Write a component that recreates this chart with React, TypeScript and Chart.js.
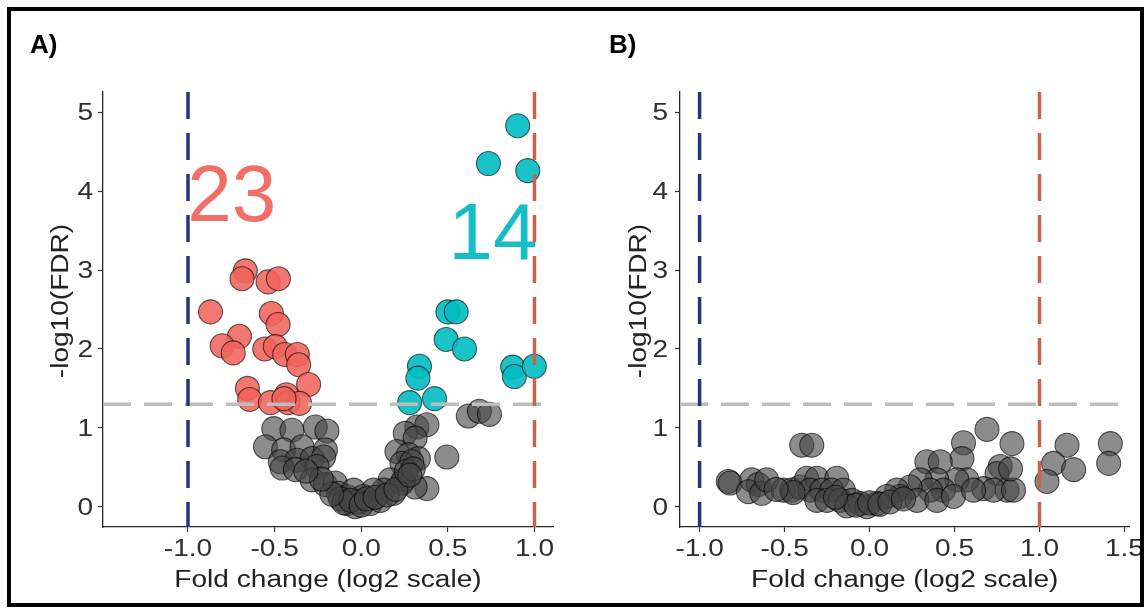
import React, { useEffect, useRef } from "react";
import { Chart, registerables } from "chart.js";
Chart.register(...registerables);

// ---------------- data ----------------
// Panel A: significant down (red, count "23")
const A_DOWN_X = [-0.669, -0.688, -0.538, -0.478, -0.87, -0.519, -0.48, -0.703, -0.803, -0.739, -0.557, -0.496, -0.442, -0.369, -0.361, -0.304, -0.657, -0.644, -0.524, -0.432, -0.422, -0.356, -0.446];
const A_DOWN_Y = [2.99, 2.89, 2.85, 2.89, 2.47, 2.45, 2.31, 2.16, 2.04, 1.95, 2.0, 2.03, 1.93, 1.93, 1.8, 1.55, 1.5, 1.36, 1.32, 1.42, 1.32, 1.31, 1.37];
// Panel A: significant up (teal, count "14")
const A_UP_X = [0.903, 0.734, 0.961, 0.5, 0.548, 0.49, 0.596, 0.336, 0.327, 0.279, 0.423, 0.874, 0.884, 0.999];
const A_UP_Y = [4.83, 4.35, 4.26, 2.47, 2.47, 2.12, 2.0, 1.78, 1.63, 1.32, 1.37, 1.77, 1.65, 1.78];
// Panel A: not significant (grey)
const A_NS_X = [-0.505, -0.4, -0.265, -0.198, -0.553, -0.448, -0.342, -0.207, -0.467, -0.371, -0.284, -0.217, -0.457, -0.38, -0.255, -0.284, -0.207, -0.15, -0.131, -0.082, -0.044, -0.082, -0.035,
  0.321, 0.379, 0.254, 0.311, 0.206, 0.273, 0.33, 0.235, 0.292, 0.494, 0.379, 0.311, 0.244, 0.167, 0.129, 0.071, 0.013, -0.025, 0.052, 0.11, 0.186, 0.235,
  0.618, 0.682, 0.74,
  -0.12, -0.1, -0.06, 0.0, 0.03, 0.08, 0.15, 0.2, 0.26, 0.3, 0.28, -0.17, -0.23, -0.32];
const A_NS_Y = [0.99, 0.97, 1.01, 0.96, 0.76, 0.72, 0.76, 0.72, 0.57, 0.59, 0.61, 0.63, 0.49, 0.47, 0.51, 0.34, 0.28, 0.3, 0.17, 0.13, 0.21, 0.04, 0.0,
  1.01, 1.04, 0.93, 0.87, 0.7, 0.66, 0.61, 0.55, 0.57, 0.63, 0.23, 0.25, 0.34, 0.34, 0.21, 0.21, 0.13, 0.06, 0.04, 0.08, 0.17, 0.3,
  1.15, 1.21, 1.17,
  0.1, 0.05, 0.08, 0.02, 0.1, 0.12, 0.15, 0.22, 0.45, 0.48, 0.4, 0.16, 0.35, 0.45];
// Panel B: all not significant (grey)
const B_NS_X = [-0.831, -0.82, -0.693, -0.654, -0.713, -0.634, -0.605, -0.399, -0.34, -0.507, -0.458, -0.409, -0.369, -0.31, -0.193, -0.35, -0.281, -0.222, -0.154, -0.31, -0.251, -0.173, -0.104, -0.055, -0.134, -0.016,
  0.691, 0.553, 0.838, 0.544, 0.337, 0.416, 0.769, 0.75, 0.809, 0.671, 0.73, 0.573, 0.514, 0.396, 0.298, 0.435, 0.357, 0.239, 0.161, 0.18, 0.102, 0.043, 0.279, 0.396, 0.494, 0.612, 0.847,
  1.162, 1.417, 1.407, 1.083, 1.201, 1.044, 0.83,
  -0.08, 0.0, 0.06, 0.12, 0.2, -0.2, -0.45, -0.55];
const B_NS_Y = [0.32, 0.3, 0.34, 0.28, 0.19, 0.17, 0.34, 0.78, 0.78, 0.21, 0.21, 0.25, 0.36, 0.36, 0.36, 0.21, 0.21, 0.21, 0.21, 0.08, 0.08, 0.08, 0.08, 0.04, 0.01, 0.0,
  0.98, 0.81, 0.8, 0.61, 0.57, 0.57, 0.51, 0.42, 0.21, 0.23, 0.21, 0.34, 0.34, 0.34, 0.34, 0.21, 0.21, 0.25, 0.21, 0.13, 0.13, 0.04, 0.08, 0.08, 0.13, 0.21, 0.21,
  0.78, 0.8, 0.55, 0.55, 0.47, 0.32, 0.48,
  0.02, 0.05, 0.03, 0.06, 0.1, 0.12, 0.18, 0.22];

const FC_CUTOFFS = [-1, 1];
const FDR_CUTOFF = 1.3;

const Y_TICKS = [0, 1, 2, 3, 4, 5];
const Y_TICK_LABELS = ["0", "1", "2", "3", "4", "5"];
const A_X_TICKS = [-1, -0.5, 0, 0.5, 1];
const A_X_TICK_LABELS = ["-1.0", "-0.5", "0.0", "0.5", "1.0"];
const B_X_TICKS = [-1, -0.5, 0, 0.5, 1, 1.5];
const B_X_TICK_LABELS = ["-1.0", "-0.5", "0.0", "0.5", "1.0", "1.5"];

const A_COUNT_LABELS = ["23", "14"];
const A_COUNT_X = [-0.748, 0.76];
const A_COUNT_Y = [3.98, 3.5];

const X_TITLE = "Fold change (log2 scale)";
const Y_TITLE = "-log10(FDR)";
const PANEL_LABELS = ["A)", "B)"];

// ---------------- styling ----------------
const FONT = '"Liberation Sans", Arial, Helvetica, sans-serif';
const STRETCH = 1.22;
const RED = "rgba(240,100,92,0.88)";
const TEAL = "rgba(0,188,194,0.9)";
const GREY = "rgba(70,70,70,0.62)";
const EDGE = "rgba(0,0,0,0.62)";
const V_COLORS = ["#22367A", "#C8644A"];
const CANVAS_H = 608;
const PLOT_TOP = 92;
const PLOT_BOTTOM = 527;
const Y_MIN = -0.257;
const Y_MAX = 5.257;

type Group = { x: number[]; y: number[]; fill: string };
type PanelSpec = {
  width: number;
  plotLeft: number;
  plotRight: number;
  xMin: number;
  xMax: number;
  xTicks: number[];
  xTickLabels: string[];
  groups: Group[];
  yTickRight: number;
  yTitleBaseline: number;
  counts?: { labels: string[]; x: number[]; y: number[]; colors: string[] };
};

const PANEL_A: PanelSpec = {
  width: 580,
  plotLeft: 103,
  plotRight: 553,
  xMin: -1.4906,
  xMax: 1.1068,
  xTicks: A_X_TICKS,
  xTickLabels: A_X_TICK_LABELS,
  groups: [
    { x: A_NS_X, y: A_NS_Y, fill: GREY },
    { x: A_DOWN_X, y: A_DOWN_Y, fill: RED },
    { x: A_UP_X, y: A_UP_Y, fill: TEAL },
  ],
  yTickRight: 93,
  yTitleBaseline: 68,
  counts: { labels: A_COUNT_LABELS, x: A_COUNT_X, y: A_COUNT_Y, colors: ["#F26E66", "#14BEC4"] },
};

const PANEL_B: PanelSpec = {
  width: 600,
  plotLeft: 100,
  plotRight: 549.5,
  xMin: -1.1153,
  xMax: 1.5296,
  xTicks: B_X_TICKS,
  xTickLabels: B_X_TICK_LABELS,
  groups: [{ x: B_NS_X, y: B_NS_Y, fill: GREY }],
  yTickRight: 88,
  yTitleBaseline: 66,
};

function drawStretched(ctx: CanvasRenderingContext2D, text: string, x: number, y: number, align: CanvasTextAlign, rotate = 0) {
  ctx.save();
  ctx.translate(x, y);
  if (rotate) ctx.rotate(rotate);
  ctx.scale(STRETCH, 1);
  ctx.textAlign = align;
  ctx.textBaseline = "alphabetic";
  ctx.fillText(text, 0, 0);
  ctx.restore();
}

function buildChart(canvas: HTMLCanvasElement, p: PanelSpec): Chart {
  const pts = (xs: number[], ys: number[]) => xs.map((x, i) => ({ x, y: ys[i] }));
  const datasets: any[] = [];
  FC_CUTOFFS.forEach((v, i) =>
    datasets.push({
      type: "line",
      data: [{ x: v, y: Y_MAX }, { x: v, y: Y_MIN }],
      borderColor: V_COLORS[i],
      borderWidth: 3.5,
      borderDash: [27, 14],
      pointRadius: 0,
      fill: false,
      showLine: true,
      order: 0,
    })
  );
  datasets.push({
    type: "line",
    data: [{ x: p.xMin, y: FDR_CUTOFF }, { x: p.xMax, y: FDR_CUTOFF }],
    borderColor: "#BDBDBD",
    borderWidth: 3.5,
    borderDash: [28, 13],
    pointRadius: 0,
    fill: false,
    showLine: true,
    order: 1,
  });
  p.groups.forEach((g, i) =>
    datasets.push({
      type: "scatter",
      data: pts(g.x, g.y),
      backgroundColor: g.fill,
      borderColor: EDGE,
      borderWidth: 1.1,
      pointRadius: 12,
      pointHoverRadius: 12,
      order: i === 0 ? 3 : 2,
    })
  );

  const textPlugin = {
    id: "ggText",
    beforeDatasetsDraw(chart: any) {
      if (!p.counts) return;
      const ctx = chart.ctx as CanvasRenderingContext2D;
      const xs = chart.scales.x;
      const ys = chart.scales.y;
      ctx.save();
      ctx.font = `80px ${FONT}`;
      ctx.textAlign = "center";
      ctx.textBaseline = "alphabetic";
      p.counts.labels.forEach((t, i) => {
        ctx.fillStyle = p.counts!.colors[i];
        ctx.fillText(t, xs.getPixelForValue(p.counts!.x[i]), ys.getPixelForValue(p.counts!.y[i]) + 0.358 * 80);
      });
      ctx.restore();
    },
    afterDraw(chart: any) {
      const ctx = chart.ctx as CanvasRenderingContext2D;
      const xs = chart.scales.x;
      const ys = chart.scales.y;
      const area = chart.chartArea;
      ctx.save();
      ctx.font = `23px ${FONT}`;
      ctx.fillStyle = "#2e2e2e";
      p.xTicks.forEach((v, i) => drawStretched(ctx, p.xTickLabels[i], xs.getPixelForValue(v), 556, "center"));
      Y_TICKS.forEach((v, i) => drawStretched(ctx, Y_TICK_LABELS[i], p.yTickRight, ys.getPixelForValue(v) + 8.2, "right"));
      ctx.fillStyle = "#222";
      drawStretched(ctx, X_TITLE, (area.left + area.right) / 2, 587, "center");
      drawStretched(ctx, Y_TITLE, p.yTitleBaseline, 301, "center", -Math.PI / 2);
      ctx.restore();
    },
  };

  const tickGrid = {
    display: true,
    drawOnChartArea: false,
    drawTicks: true,
    tickLength: 5,
    tickColor: "#333",
    tickWidth: 1.2,
  };

  return new Chart(canvas, {
    type: "scatter",
    data: { datasets },
    plugins: [textPlugin],
    options: {
      animation: false,
      responsive: false,
      devicePixelRatio: 1,
      events: [],
      layout: { padding: { left: 0, top: PLOT_TOP, right: p.width - p.plotRight, bottom: 0 } },
      plugins: { legend: { display: false }, tooltip: { enabled: false }, title: { display: false } },
      scales: {
        x: {
          type: "linear",
          min: p.xMin,
          max: p.xMax,
          afterBuildTicks: (s: any) => {
            s.ticks = p.xTicks.map((v) => ({ value: v }));
          },
          afterFit: (s: any) => {
            s.height = CANVAS_H - PLOT_BOTTOM;
          },
          ticks: { display: false },
          grid: tickGrid,
          border: { display: true, color: "#262626", width: 1.3 },
        },
        y: {
          type: "linear",
          min: Y_MIN,
          max: Y_MAX,
          afterBuildTicks: (s: any) => {
            s.ticks = Y_TICKS.map((v) => ({ value: v }));
          },
          afterFit: (s: any) => {
            s.width = p.plotLeft;
          },
          ticks: { display: false },
          grid: tickGrid,
          border: { display: true, color: "#262626", width: 1.3 },
        },
      },
    } as any,
  });
}

const panelLabelStyle = (left: number): React.CSSProperties => ({
  position: "absolute",
  left,
  top: 31,
  font: `bold 26px ${FONT}`,
  lineHeight: "26px",
  color: "#000",
  whiteSpace: "nowrap",
});

export default function App() {
  const refA = useRef<HTMLCanvasElement>(null);
  const refB = useRef<HTMLCanvasElement>(null);
  useEffect(() => {
    const a = buildChart(refA.current!, PANEL_A);
    const b = buildChart(refB.current!, PANEL_B);
    return () => {
      a.destroy();
      b.destroy();
    };
  }, []);
  return (
    <div style={{ position: "absolute", left: 0, top: 0, width: 1145, height: 608, overflow: "hidden", background: "#fff" }}>
      <canvas ref={refA} width={PANEL_A.width} height={CANVAS_H} style={{ position: "absolute", left: 0, top: 0 }} />
      <canvas ref={refB} width={PANEL_B.width} height={CANVAS_H} style={{ position: "absolute", left: 580, top: 0 }} />
      <div style={panelLabelStyle(30)}>{PANEL_LABELS[0]}</div>
      <div style={panelLabelStyle(609)}>{PANEL_LABELS[1]}</div>
      <div
        style={{
          position: "absolute",
          left: 7,
          top: 7,
          width: 1137,
          height: 600,
          border: "4px solid #000",
          boxSizing: "border-box",
          pointerEvents: "none",
        }}
      />
    </div>
  );
}
